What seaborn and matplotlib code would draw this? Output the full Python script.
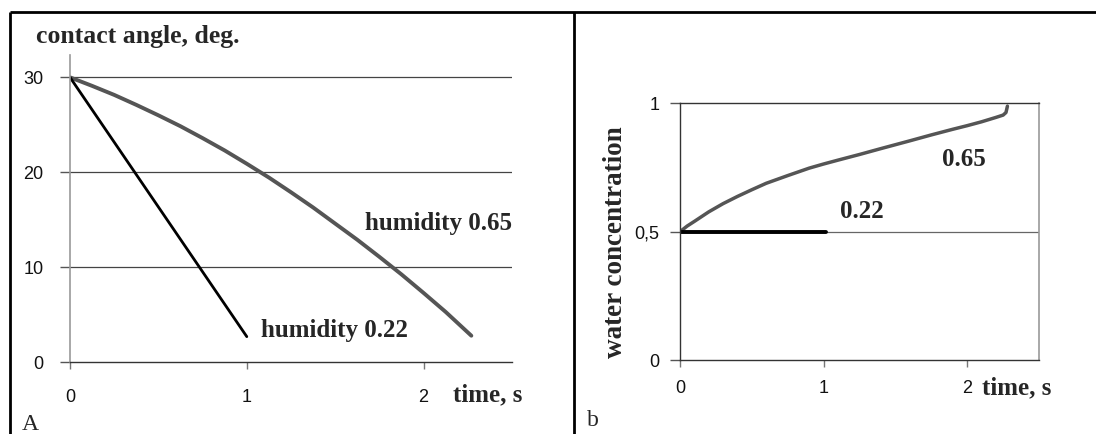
import matplotlib
matplotlib.use("Agg")
import matplotlib.pyplot as plt
import numpy as np
import pandas as pd
import seaborn as sns
from matplotlib.lines import Line2D

# panel A: contact angle vs time
t_022 = [0, 1.0]
angle_022 = [30, 2.7]
t_065 = [0, 0.125, 0.25, 0.375, 0.5, 0.625, 0.75, 0.875, 1.0, 1.125, 1.25,
         1.375, 1.5, 1.625, 1.75, 1.875, 2.0, 2.125, 2.27]
angle_065 = [30, 29.1, 28.15, 27.1, 26.0, 24.85, 23.6, 22.3, 20.9, 19.45, 17.9,
             16.3, 14.6, 12.9, 11.1, 9.25, 7.3, 5.3, 2.8]

# panel b: water concentration vs time
tw_022 = [0, 1.02]
conc_022 = [0.5, 0.5]
tw_065 = [0, 0.05, 0.1, 0.2, 0.3, 0.4, 0.5, 0.6, 0.75, 0.9, 1.0, 1.1, 1.25, 1.4,
          1.5, 1.6, 1.75, 1.9, 2.0, 2.1, 2.2, 2.25, 2.27, 2.28, 2.28]
conc_065 = [0.5, 0.522, 0.54, 0.577, 0.609, 0.637, 0.663, 0.688, 0.718, 0.747,
            0.763, 0.778, 0.8, 0.823, 0.838, 0.853, 0.876, 0.898, 0.912, 0.927,
            0.944, 0.953, 0.963, 0.975, 1.0]

yticks_a = [0, 10, 20, 30]
yticks_b = [0, 0.5, 1]
yticklabels_b = ["0", "0,5", "1"]
xticks = [0, 1, 2]

sns.set_style("white")
plt.rcParams['font.family'] = ['Liberation Sans', 'DejaVu Sans']

W, H = 1096, 434
fig = plt.figure(figsize=(W / 100, H / 100), dpi=100)

def box(x0, x1, y0, y1):
    # pixel box (top-left origin) -> figure fraction rect
    return [x0 / W, 1 - y1 / H, (x1 - x0) / W, (y1 - y0) / H]

serif = dict(family='Liberation Serif', fontweight='bold')

# ---------- panel A ----------
axA = fig.add_axes(box(70, 512, 55, 362.3))
dfa1 = pd.DataFrame({'t': t_065, 'v': angle_065})
dfa2 = pd.DataFrame({'t': t_022, 'v': angle_022})
sns.lineplot(data=dfa1, x='t', y='v', ax=axA, color='#555555', lw=2.8, sort=False)
sns.lineplot(data=dfa2, x='t', y='v', ax=axA, color='black', lw=2.0, sort=False)
axA.set_xlim(0, 2.5)
axA.set_ylim(0, 32.35)
axA.set_xticks(xticks)
axA.set_yticks(yticks_a)
axA.set_xlabel('')
axA.set_ylabel('')
for g in yticks_a[1:]:
    axA.axhline(g, color='#444444', lw=0.9, zorder=0)
for s in ['top', 'right']:
    axA.spines[s].set_visible(False)
axA.spines['left'].set_color('#999999')
axA.spines['left'].set_linewidth(1.2)
axA.spines['bottom'].set_color('#333333')
axA.spines['bottom'].set_linewidth(1.0)
axA.tick_params(axis='y', length=7, width=1, color='#555555', pad=12, labelsize=13,
                labelcolor='#111111', direction='out', left=True)
axA.tick_params(axis='x', length=5, width=1, color='#777777', pad=14, labelsize=13,
                labelcolor='#111111', direction='out', bottom=True)
axA.text(1.667, 14.66, 'humidity 0.65', ha='left', va='center', fontsize=18, **serif)
axA.text(1.083, 3.4, 'humidity 0.22', ha='left', va='center', fontsize=18, **serif)
axA.text(2.164, -3.44, 'time, s', ha='left', va='center', fontsize=18, clip_on=False, **serif)

# ---------- panel b ----------
axB = fig.add_axes(box(680, 1039, 103, 360.4))
dfb1 = pd.DataFrame({'t': tw_065, 'v': conc_065})
dfb2 = pd.DataFrame({'t': tw_022, 'v': conc_022})
sns.lineplot(data=dfb1, x='t', y='v', ax=axB, color='#555555', lw=2.5, sort=False)
sns.lineplot(data=dfb2, x='t', y='v', ax=axB, color='black', lw=2.8, sort=False)
axB.set_xlim(0, 2.5)
axB.set_ylim(0, 1)
axB.set_xticks(xticks)
axB.set_yticks(yticks_b)
axB.set_yticklabels(yticklabels_b)
axB.set_xlabel('')
axB.set_ylabel('')
axB.axhline(0.5, color='#666666', lw=0.9, zorder=0)
for s in ['left', 'bottom', 'top']:
    axB.spines[s].set_color('#333333')
    axB.spines[s].set_linewidth(1.0)
axB.spines['right'].set_color('#999999')
axB.spines['right'].set_linewidth(1.2)
axB.tick_params(axis='y', length=7, width=1, color='#555555', pad=8, labelsize=13,
                labelcolor='#111111', direction='out', left=True)
axB.tick_params(axis='x', length=5, width=1, color='#777777', pad=9, labelsize=13,
                labelcolor='#111111', direction='out', bottom=True)
axB.text(1.822, 0.779, '0.65', ha='left', va='center', fontsize=18, **serif)
axB.text(1.114, 0.58, '0.22', ha='left', va='center', fontsize=18, **serif)
axB.text(2.103, -0.107, 'time, s', ha='left', va='center', fontsize=18, clip_on=False, **serif)

# ---------- figure level text and frame ----------
fig.text(36 / W, 1 - 37 / H, 'contact angle, deg.', ha='left', va='center', fontsize=18.5, **serif)
fig.text(616 / W, 1 - 242 / H, 'water concentration', ha='center', va='center', rotation=90,
         fontsize=19.5, **serif)
fig.text(22 / W, 1 - 425 / H, 'A', ha='left', va='center', fontsize=17, family='Liberation Serif')
fig.text(587 / W, 1 - 420 / H, 'b', ha='left', va='center', fontsize=17, family='Liberation Serif')

frame = dict(color='black', lw=2.0, transform=fig.transFigure, solid_capstyle='butt')
fig.add_artist(Line2D([10 / W, 1], [1 - 12 / H, 1 - 12 / H], **frame))
fig.add_artist(Line2D([10 / W, 10 / W], [0, 1 - 12 / H], **frame))
fig.add_artist(Line2D([574 / W, 574 / W], [0, 1 - 12 / H], **frame))

fig.savefig('out.png', dpi=100)
